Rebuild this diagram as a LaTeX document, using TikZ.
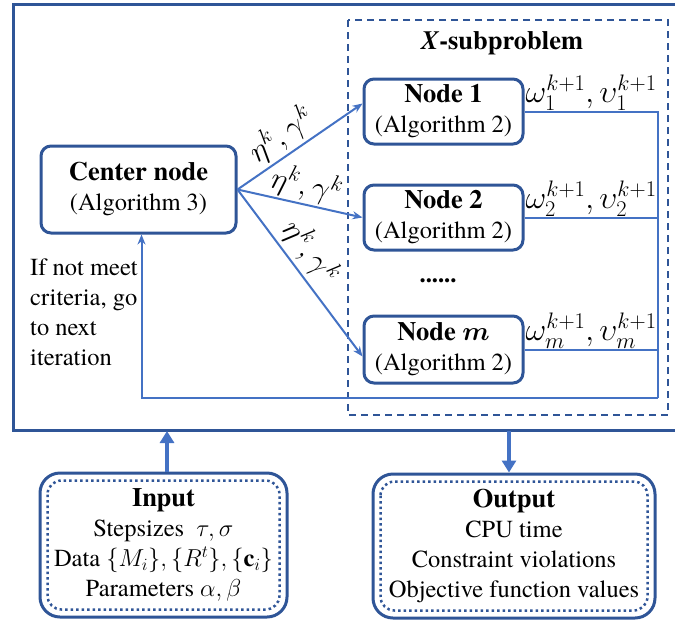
\RequirePackage{fix-cm}
\documentclass[tikz,border=0pt]{standalone}
\usepackage{amsmath}
\usepackage{fontspec}
\setmainfont{texgyretermes}[Extension=.otf, UprightFont=*-regular, BoldFont=*-bold, ItalicFont=*-italic, BoldItalicFont=*-bolditalic]
\usepackage{bm}
\usepackage{tikz}
\usetikzlibrary{arrows.meta}
\definecolor{frameblue}{RGB}{47,85,151}
\definecolor{lineblue}{RGB}{68,114,196}
\newcommand{\ttl}[1]{{\fontsize{26.5}{30}\selectfont\bfseries #1}}

\begin{document}
\begin{tikzpicture}[x=1pt, y=-1pt,
    every node/.style={font=\fontsize{24.5}{30}\selectfont},
    blk/.style={draw=frameblue, line width=3pt, rounded corners=10pt, fill=white,
        align=center, minimum width=159pt, minimum height=65pt, inner sep=0pt},
    iobox/.style={draw=frameblue, line width=3pt, rounded corners=20pt,
        align=center, inner sep=0pt, minimum height=144pt},
    dotbox/.style={frameblue, line width=2.5pt, dash pattern=on 2.5pt off 3pt, rounded corners=14pt},
    link/.style={lineblue, line width=2pt},
    feed/.style={link, -{Stealth[length=10pt,width=8pt]}},
    lab/.style={font=\fontsize{31}{30}\selectfont, text=black, inner sep=1pt},
    bigarrow/.style={lineblue, line width=3.5pt, -{Triangle[length=12pt,width=14pt]}}]
                \useasboundingbox (0,0) rectangle (675,622);

                % Outer frame
                \draw[frameblue, line width=3pt] (675,4) -- (13,4) -- (13,430) -- (675,430);
                \coordinate (mainin) at (167,431);
                \coordinate (mainout) at (509,431);

                % X-subproblem
                \draw[frameblue, line width=2pt, dash pattern=on 7pt off 5pt] (348,20) rectangle (668,415);
                \node (xtitle) at (502,43) {\ttl{\textit{X}-subproblem}};

                % Center node and local nodes
                \node[blk, minimum width=195pt, minimum height=87pt] (center) at (138.5,189.5) {\ttl{Center node}\\(Algorithm 3)};
                \node[blk] (node1) at (443.5,111.5) {\ttl{Node 1}\\(Algorithm 2)};
                \node[blk] (node2) at (443.5,217.5) {\ttl{Node 2}\\(Algorithm 2)};
                \node (dots) at (438,281) {\textbf{......}};
                \node[blk, minimum height=67pt] (nodem) at (443.5,349.5) {\ttl{Node $\bm{m}$}\\(Algorithm 2)};

                % Broadcast
                \draw[feed] (center.east) -- ([yshift=8pt]node1.west) node[lab, pos=0.44, above, sloped, inner sep=3pt]{$\eta^k,\gamma^k$};
                \draw[feed] (center.east) -- (node2.west) node[lab, pos=0.52, above, sloped, inner sep=2pt]{$\eta^k,\gamma^k$};
                \draw[feed] (center.east) -- ([yshift=-7pt]nodem.west) node[lab, pos=0.45, above, sloped, inner sep=4pt]{$\eta^k,\gamma^k$};

                % Gather
                \coordinate (bus) at (658,398);
                \draw[link] (node1.east) -| (bus);
                \draw[link] (node2.east) -- (node2.east -| bus);
                \draw[link] (nodem.east) -- (nodem.east -| bus);
                \draw[feed] (bus) -| ([xshift=3pt]center.south);
                \node[lab, font=\fontsize{32}{30}\selectfont, anchor=south west] (w1) at (node1.east) {$\omega_1^{k+1},\upsilon_1^{k+1}$};
                \node[lab, font=\fontsize{32}{30}\selectfont, anchor=south west] (w2) at (node2.east) {$\omega_2^{k+1},\upsilon_2^{k+1}$};
                \node[lab, font=\fontsize{32}{30}\selectfont, anchor=south west] (wm) at (nodem.east) {$\omega_m^{k+1},\upsilon_m^{k+1}$};
                \node[anchor=north west, align=left, inner sep=0pt] (note) at (30,259) {If not meet\\criteria, go\\to next\\iteration};

                % Input
                \node[iobox, minimum width=247pt] (input) at (163.5,545) {\ttl{Input}\\Stepsizes~ $\tau,\sigma$\\Data $\{M_i\},\{R^t\},\{\mathbf{c}_i\}$\\Parameters $\alpha,\beta$};
                \draw[dotbox] ([xshift=9pt,yshift=-9pt]input.north west) rectangle ([xshift=-9pt,yshift=9pt]input.south east);
                \draw[bigarrow] (input.north -| mainin) -- (mainin);

                % Output
                \node[iobox, minimum width=282pt] (output) at (514,546) {\ttl{Output}\\CPU time\\Constraint violations\\Objective function values};
                \draw[dotbox] ([xshift=9pt,yshift=-9pt]output.north west) rectangle ([xshift=-9pt,yshift=9pt]output.south east);
                \draw[bigarrow] (mainout) -- (output.north -| mainout);
            \end{tikzpicture}
\end{document}
